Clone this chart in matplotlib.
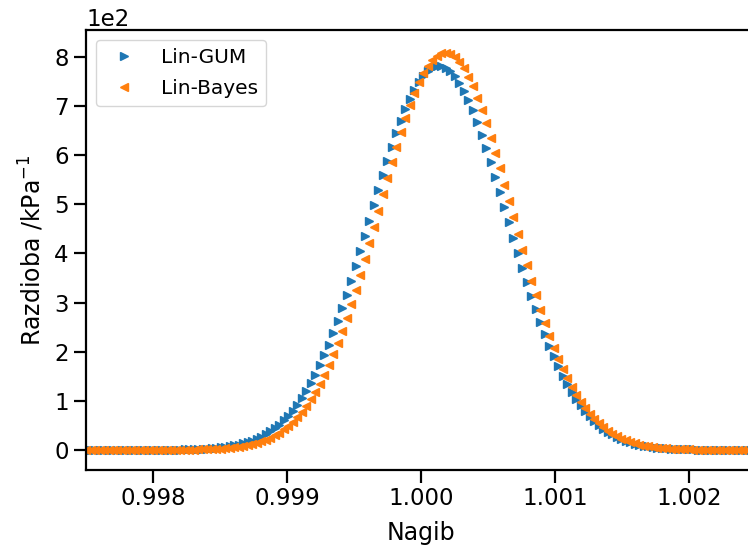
import matplotlib

matplotlib.use("Agg")
import matplotlib.pyplot as plt

# ---- data -----------------------------------------------------------------
nagib = [
    0.997500, 0.997534, 0.997567, 0.997601, 0.997634, 0.997668, 0.997701, 0.997735,
    0.997768, 0.997802, 0.997836, 0.997869, 0.997903, 0.997936, 0.997970, 0.998003,
    0.998037, 0.998070, 0.998104, 0.998138, 0.998171, 0.998205, 0.998238, 0.998272,
    0.998305, 0.998339, 0.998372, 0.998406, 0.998440, 0.998473, 0.998507, 0.998540,
    0.998574, 0.998607, 0.998641, 0.998674, 0.998708, 0.998742, 0.998775, 0.998809,
    0.998842, 0.998876, 0.998909, 0.998943, 0.998977, 0.999010, 0.999044, 0.999077,
    0.999111, 0.999144, 0.999178, 0.999211, 0.999245, 0.999279, 0.999312, 0.999346,
    0.999379, 0.999413, 0.999446, 0.999480, 0.999513, 0.999547, 0.999581, 0.999614,
    0.999648, 0.999681, 0.999715, 0.999748, 0.999782, 0.999815, 0.999849, 0.999883,
    0.999916, 0.999950, 0.999983, 1.000017, 1.000050, 1.000084, 1.000117, 1.000151,
    1.000185, 1.000218, 1.000252, 1.000285, 1.000319, 1.000352, 1.000386, 1.000419,
    1.000453, 1.000487, 1.000520, 1.000554, 1.000587, 1.000621, 1.000654, 1.000688,
    1.000721, 1.000755, 1.000789, 1.000822, 1.000856, 1.000889, 1.000923, 1.000956,
    1.000990, 1.001023, 1.001057, 1.001091, 1.001124, 1.001158, 1.001191, 1.001225,
    1.001258, 1.001292, 1.001325, 1.001359, 1.001393, 1.001426, 1.001460, 1.001493,
    1.001527, 1.001560, 1.001594, 1.001628, 1.001661, 1.001695, 1.001728, 1.001762,
    1.001795, 1.001829, 1.001862, 1.001896, 1.001930, 1.001963, 1.001997, 1.002030,
    1.002064, 1.002097, 1.002131, 1.002164, 1.002198, 1.002232, 1.002265, 1.002299,
    1.002332, 1.002366, 1.002399, 1.002433, 1.002466, 1.002500,
]

lin_gum = [
    0.0, 0.0, 0.0, 0.0, 0.0, 0.0, 0.0, 0.0, 0.0, 0.0, 0.0, 0.0, 0.1, 0.1, 0.1, 0.1,
    0.2, 0.2, 0.3, 0.4, 0.5, 0.6, 0.8, 1.0, 1.3, 1.6, 2.0, 2.5, 3.2, 3.9, 4.9, 6.0,
    7.3, 8.9, 10.9, 13.1, 15.8, 19.0, 22.6, 26.9, 31.9, 37.6, 44.1, 51.5, 59.9, 69.4,
    80.1, 91.9, 105.1, 119.7, 135.6, 153.0, 172.0, 192.4, 214.4, 237.9, 262.7, 288.8,
    316.3, 344.8, 374.3, 404.5, 435.3, 466.5, 497.7, 528.5, 559.1, 588.8, 617.4, 644.5,
    670.0, 693.5, 714.7, 733.3, 749.2, 762.2, 771.9, 778.4, 781.7, 781.5, 777.9, 771.1,
    761.0, 747.7, 731.6, 712.6, 691.2, 667.6, 641.9, 614.6, 585.9, 556.1, 525.6, 494.5,
    463.3, 432.2, 401.5, 371.3, 341.9, 313.4, 286.1, 260.1, 235.5, 212.2, 190.4, 170.0,
    151.2, 133.9, 118.1, 103.7, 90.6, 78.9, 68.4, 59.0, 50.7, 43.4, 36.9, 31.3, 26.5,
    22.3, 18.6, 15.5, 12.9, 10.7, 8.8, 7.2, 5.9, 4.8, 3.8, 3.1, 2.5, 2.0, 1.6, 1.2,
    1.0, 0.8, 0.6, 0.5, 0.4, 0.3, 0.2, 0.2, 0.1, 0.1, 0.1, 0.1, 0.0, 0.0, 0.0, 0.0,
]

lin_bayes = [
    0.0, 0.0, 0.0, 0.0, 0.0, 0.0, 0.0, 0.0, 0.0, 0.0, 0.0, 0.0, 0.0, 0.0, 0.0, 0.0,
    0.1, 0.1, 0.1, 0.2, 0.2, 0.3, 0.4, 0.5, 0.6, 0.8, 1.0, 1.3, 1.6, 2.0, 2.6, 3.3,
    4.1, 5.1, 6.3, 7.7, 9.5, 11.6, 14.1, 17.1, 20.6, 24.7, 29.5, 35.1, 41.5, 48.9,
    57.4, 66.9, 77.7, 89.8, 103.4, 118.4, 135.0, 153.2, 173.1, 194.6, 217.9, 242.7,
    269.1, 297.0, 326.3, 356.8, 388.3, 420.8, 453.7, 487.1, 520.4, 553.5, 586.0, 617.5,
    647.6, 676.2, 702.7, 726.8, 748.3, 766.9, 782.4, 794.4, 802.9, 807.8, 808.9, 806.3,
    800.0, 790.1, 776.7, 759.9, 740.1, 717.4, 692.3, 664.9, 635.7, 605.0, 573.1, 540.3,
    507.1, 473.7, 440.4, 407.7, 375.5, 344.4, 314.4, 285.6, 258.2, 232.5, 208.3, 185.7,
    164.9, 145.7, 128.1, 112.2, 97.8, 84.9, 73.2, 62.9, 53.9, 45.9, 38.8, 32.8, 27.5,
    23.0, 19.1, 15.9, 13.1, 10.7, 8.8, 7.1, 5.8, 4.6, 3.7, 3.0, 2.4, 1.9, 1.5, 1.1,
    0.9, 0.7, 0.5, 0.4, 0.3, 0.2, 0.2, 0.1, 0.1, 0.1, 0.0, 0.0, 0.0, 0.0, 0.0, 0.0,
]

BLUE = "#1f77b4"
ORANGE = "#ff7f0e"

plt.rcParams.update({
    "font.size": 16,
    "axes.linewidth": 1.6,
    "xtick.major.size": 9,
    "ytick.major.size": 9,
    "xtick.major.width": 1.6,
    "ytick.major.width": 1.6,
    "xtick.labelsize": 16.5,
    "ytick.labelsize": 16.5,
    "axes.labelsize": 17,
})

fig = plt.figure(figsize=(7.48, 5.52), dpi=100)
# axes run past the right edge of the figure, as in the reference crop
ax = fig.add_axes((86 / 748, 82 / 552, 670 / 748, 440 / 552))

ax.plot(nagib, lin_gum, ">", color=BLUE, ms=5.5, label="Lin-GUM")
ax.plot(nagib, lin_bayes, "<", color=ORANGE, ms=5.5, label="Lin-Bayes")

ax.set_xlim(0.9975, 1.0025)
ax.set_ylim(-41, 855)
ax.ticklabel_format(axis="y", style="sci", scilimits=(0, 0))
ax.ticklabel_format(axis="x", useOffset=False)
ax.yaxis.get_offset_text().set_fontsize(16.5)

ax.set_xlabel("Nagib", labelpad=8)
ax.set_ylabel("Razdioba /kPa$^{-1}$", labelpad=6)
ax.legend(loc="upper left", numpoints=1, fontsize=14.5, markerscale=1.0,
          handletextpad=0.8, labelspacing=0.6)

fig.savefig("out.png", dpi=100)
